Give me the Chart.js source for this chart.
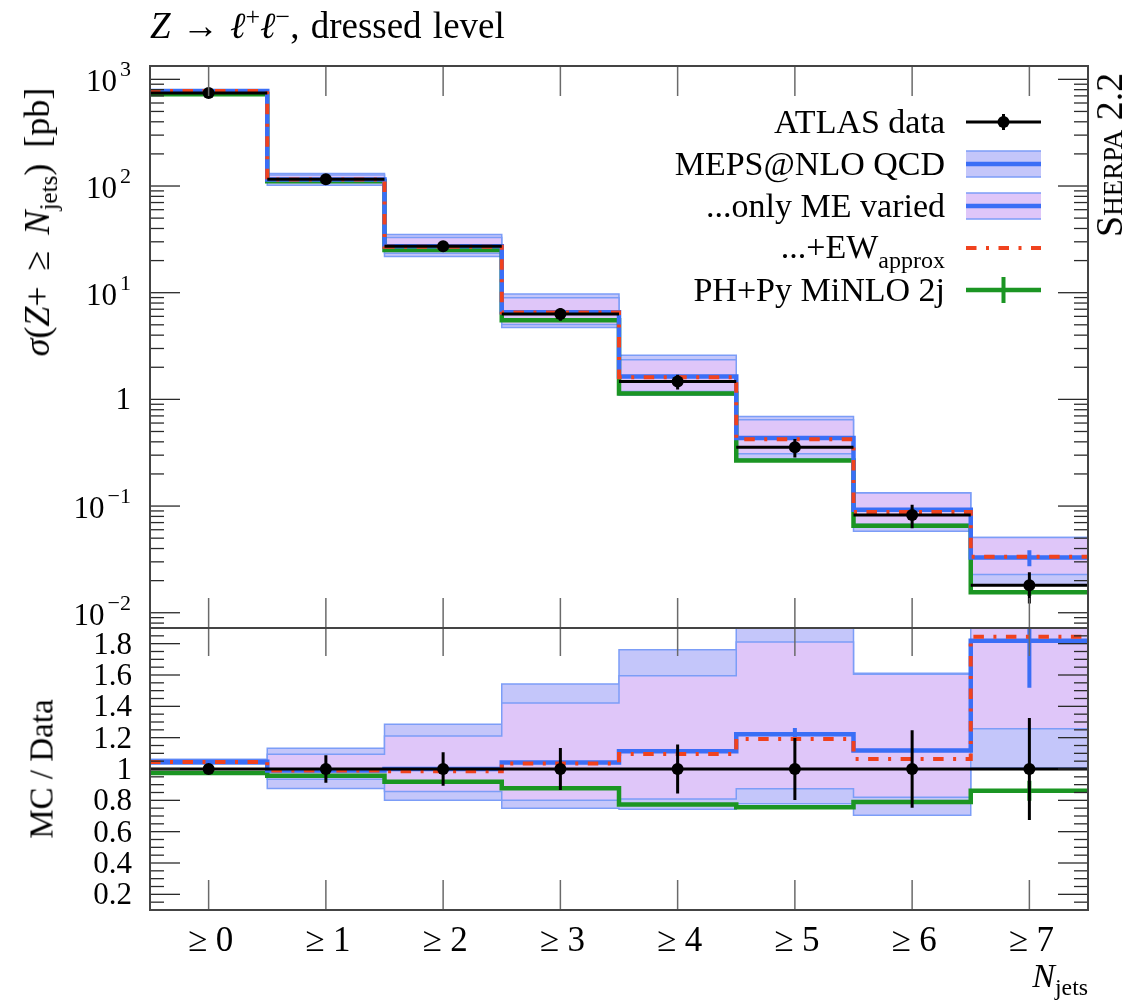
<!DOCTYPE html>
<html>
<head>
<meta charset="utf-8">
<title>Z to ll + jets, inclusive jet multiplicity</title>
<script src="https://cdn.jsdelivr.net/npm/chart.js@4.4.1/dist/chart.umd.min.js"></script>
<style>
  html, body { margin: 0; padding: 0; background: #fff; }
  body { position: relative; width: 1126px; height: 1003px; overflow: hidden;
         font-family: "Liberation Serif", "DejaVu Serif", serif; color: #000; }
  canvas { position: absolute; left: 0; top: 0; }
  .lbl { position: absolute; white-space: nowrap; line-height: 1; }
  .rot { transform: translate(-50%, -50%) rotate(-90deg); }
  sup, sub { font-size: 0.7em; line-height: 0; }
</style>
</head>
<body>
<canvas id="mainChart" width="1126" height="1003"></canvas>
<canvas id="ratioChart" width="1126" height="1003"></canvas>

<div class="lbl" style="left:150px; top:7px; font-size:37px; word-spacing:2px;"><i>Z</i> → <i>ℓ</i><sup>+</sup><i>ℓ</i><sup>−</sup>, dressed level</div>
<div class="lbl rot" style="left:37px; top:222px; font-size:36px; word-spacing:7px;"><i>σ</i>(<i>Z</i>+ ≥ <i>N</i><sub>jets</sub>) [pb]</div>
<div class="lbl rot" style="left:42px; top:769px; font-size:33px;">MC / Data</div>
<div class="lbl rot" style="left:1109px; top:155px; font-size:38px; font-variant:small-caps;">Sherpa 2.2</div>
<div class="lbl" style="right:38px; top:959px; font-size:34px;"><i>N</i><sub>jets</sub></div>

<script>
// bins: inclusive jet multiplicity
const binLabels = ['≥ 0', '≥ 1', '≥ 2', '≥ 3', '≥ 4', '≥ 5', '≥ 6', '≥ 7'];

// cross sections [pb]
const atlasData    = [744, 116, 27.3, 6.3, 1.47, 0.355, 0.0826, 0.0181];
const atlasErr     = [8.9, 10.1, 2.92, 0.84, 0.231, 0.070, 0.0205, 0.0059];
const mepsQcd      = [779, 114.8, 27.3, 6.56, 1.636, 0.434, 0.0923, 0.0329];
const mepsQcdStat  = [0, 0, 0, 0, 0, 0.015, 0, 0.0056];
const mepsQcdLo    = [766, 101.5, 21.8, 4.72, 1.092, 0.276, 0.0582, 0.0182];
const mepsQcdHi    = [790, 131.3, 35.1, 9.72, 2.589, 0.692, 0.133, 0.0507];
const onlyMeLo     = [770, 108.5, 23.4, 5.04, 1.188, 0.310, 0.0677, 0.0228];
const onlyMeHi     = [787, 126.9, 33.0, 8.95, 2.346, 0.643, 0.1326, 0.0507];
const mepsEw       = [777.5, 114.8, 26.9, 6.52, 1.611, 0.423, 0.0879, 0.0334];
const minlo        = [725, 111, 25.1, 5.53, 1.136, 0.268, 0.0653, 0.0156];
const minloStat    = [0, 0, 0, 0, 0, 0, 0, 0.0012];

// MC / data
const atlasRatio       = [1, 1, 1, 1, 1, 1, 1, 1];
const atlasRatioErr    = [0.012, 0.087, 0.107, 0.134, 0.157, 0.198, 0.248, 0.326];
const mepsQcdRatio     = [1.047, 0.99, 1.0, 1.042, 1.113, 1.222, 1.118, 1.819];
const mepsQcdRatioStat = [0, 0, 0, 0, 0, 0.04, 0, 0.30];
const mepsQcdRatioLo   = [1.03, 0.875, 0.80, 0.749, 0.743, 0.778, 0.705, 1.006];
const mepsQcdRatioHi   = [1.062, 1.132, 1.286, 1.543, 1.761, 1.95, 1.611, 2.8];
const onlyMeRatioLo    = [1.035, 0.935, 0.856, 0.80, 0.808, 0.874, 0.82, 1.257];
const onlyMeRatioHi    = [1.058, 1.094, 1.21, 1.421, 1.596, 1.81, 1.605, 2.8];
const mepsEwRatio      = [1.045, 0.99, 0.985, 1.035, 1.096, 1.192, 1.064, 1.844];
const minloRatio       = [0.975, 0.957, 0.918, 0.877, 0.773, 0.756, 0.79, 0.861];
const minloRatioStat   = [0, 0, 0, 0, 0, 0, 0, 0.064];

const xsecTicks  = [0.01, 0.1, 1, 10, 100, 1000];
const ratioTicks = [0.2, 0.4, 0.6, 0.8, 1, 1.2, 1.4, 1.6, 1.8];
const legendLabels = ['ATLAS data', 'MEPS@NLO QCD', '...only ME varied', '...+EW', 'PH+Py MiNLO 2j'];

const BLUE = '#3a6ef6', EDGE = '#7c9df7', OUTER = '#c4c6fa', INNER = '#dfc6f9';
const RED = '#f0421e', GREEN = '#1b9523';
const FONT = '"Liberation Serif", "DejaVu Serif", serif';

// histogram outline: one horizontal run per bin, joined by vertical steps
function stepPoints(vals) {
  const pts = [];
  vals.forEach((v, i) => pts.push({ x: i - 0.5, y: v }, { x: i + 0.5, y: v }));
  return pts;
}

// separate horizontal bars (data x-extent)
function barPoints(vals) {
  const pts = [];
  vals.forEach((v, i) => pts.push({ x: i - 0.5, y: v }, { x: i + 0.5, y: v }, { x: i + 0.5, y: null }));
  return pts;
}

function errPoints(vals, errs) {
  const pts = [];
  vals.forEach((v, i) => {
    if (!errs[i]) return;
    pts.push({ x: i, y: v - errs[i] }, { x: i, y: v + errs[i] }, { x: i, y: null });
  });
  return pts;
}

function histDatasets(s) {
  return [
    { data: s.data.map((v, i) => ({ x: i, y: v })), showLine: false, pointRadius: 6,
      pointBackgroundColor: '#000', pointBorderWidth: 0, order: 0 },
    { data: errPoints(s.data, s.dataErr), borderColor: '#000', borderWidth: 3, order: 1 },
    { data: barPoints(s.data), borderColor: '#000', borderWidth: 3, order: 2 },
    { data: stepPoints(s.ew), borderColor: RED, borderWidth: 4, borderDash: [10.5, 9.5, 3, 9.5], order: 3 },
    { data: errPoints(s.meps, s.mepsStat), borderColor: BLUE, borderWidth: 4, order: 4 },
    { data: stepPoints(s.meps), borderColor: BLUE, borderWidth: 4.5, order: 5 },
    { data: errPoints(s.minlo, s.minloStat), borderColor: GREEN, borderWidth: 4, order: 6 },
    { data: stepPoints(s.minlo), borderColor: GREEN, borderWidth: 4.5, order: 7 },
    { data: stepPoints(s.innerHi), borderColor: EDGE, borderWidth: 1.5, order: 8 },
    { data: stepPoints(s.innerLo), borderColor: EDGE, borderWidth: 1.5, fill: '-1', backgroundColor: INNER, order: 9 },
    { data: stepPoints(s.outerHi), borderColor: EDGE, borderWidth: 1.5, order: 10 },
    { data: stepPoints(s.outerLo), borderColor: EDGE, borderWidth: 1.5, fill: '-1', backgroundColor: OUTER, order: 11 }
  ];
}

function seg(ctx, x0, y0, x1, y1) {
  ctx.beginPath(); ctx.moveTo(x0, y0); ctx.lineTo(x1, y1); ctx.stroke();
}

function drawPowerLabel(ctx, v, py) {
  const e = Math.round(Math.log10(v));
  ctx.textAlign = 'right';
  if (e === 0) {
    ctx.font = '31px ' + FONT;
    ctx.fillText('1', 131, py + 10);
    return;
  }
  const sup = e < 0 ? '−' + (-e) : String(e);
  ctx.font = '22px ' + FONT;
  const w = ctx.measureText(sup).width;
  ctx.fillText(sup, 131, py - 3);
  ctx.font = '31px ' + FONT;
  ctx.fillText('10', 131 - w - 3, py + 12);
}

function drawRatioLabel(ctx, v, py) {
  ctx.textAlign = 'right';
  ctx.font = '31px ' + FONT;
  ctx.fillText(v === 1 ? '1' : v.toFixed(1), 132, py + 10);
}

function drawLegend(ctx) {
  const tx = 945, x0 = 966, x1 = 1041, xm = 1003.5;
  const rows = [122, 164, 206, 248, 290];
  ctx.fillStyle = '#000';
  ctx.textAlign = 'right';
  ctx.font = '34px ' + FONT;
  legendLabels.forEach((lab, i) => {
    if (i === 3) {
      ctx.font = '24px ' + FONT;
      const w = ctx.measureText('approx').width;
      ctx.fillText('approx', tx, rows[i] + 20);
      ctx.font = '34px ' + FONT;
      ctx.fillText(lab, tx - w, rows[i] + 10);
    } else {
      ctx.fillText(lab, tx, rows[i] + 11);
    }
  });
  // ATLAS data
  ctx.strokeStyle = '#000'; ctx.lineWidth = 3;
  seg(ctx, x0, rows[0], x1, rows[0]);
  seg(ctx, xm, rows[0] - 8, xm, rows[0] + 8);
  ctx.beginPath(); ctx.arc(xm, rows[0], 6, 0, 2 * Math.PI); ctx.fill();
  // bands
  [[rows[1], OUTER], [rows[2], INNER]].forEach(([y, col]) => {
    ctx.fillStyle = col; ctx.fillRect(x0, y - 13, x1 - x0, 26);
    ctx.strokeStyle = EDGE; ctx.lineWidth = 1.5;
    seg(ctx, x0, y - 13, x1, y - 13); seg(ctx, x0, y + 13, x1, y + 13);
    ctx.strokeStyle = BLUE; ctx.lineWidth = 4.5;
    seg(ctx, x0, y, x1, y);
  });
  // EW
  ctx.strokeStyle = RED; ctx.lineWidth = 4;
  ctx.setLineDash([10.5, 9.5, 3, 9.5]);
  seg(ctx, x0, rows[3], x1, rows[3]);
  ctx.setLineDash([]);
  // MiNLO
  ctx.strokeStyle = GREEN; ctx.lineWidth = 4.5;
  seg(ctx, x0, rows[4], x1, rows[4]);
  ctx.lineWidth = 4;
  seg(ctx, xm, rows[4] - 13, xm, rows[4] + 13);
}

const framePlugin = {
  id: 'frame',
  afterDatasetsDraw(chart, args, opts) {
    const { ctx, chartArea: a } = chart;
    const x = chart.scales.x, y = chart.scales.y;
    ctx.save();
    ctx.lineCap = 'butt';
    // x ticks at bin centres, top and bottom
    ctx.strokeStyle = '#6a6a6a'; ctx.lineWidth = 1.5;
    binLabels.forEach((lab, i) => {
      const px = x.getPixelForValue(i);
      seg(ctx, px, a.top, px, a.top + opts.topTick);
      seg(ctx, px, a.bottom, px, a.bottom - 30);
    });
    // y ticks on both sides
    ctx.strokeStyle = '#2a2a2a'; ctx.lineWidth = 1.3;
    opts.minor.forEach(v => {
      const py = y.getPixelForValue(v);
      seg(ctx, a.left, py, a.left + 14, py); seg(ctx, a.right, py, a.right - 14, py);
    });
    opts.major.forEach(v => {
      const py = y.getPixelForValue(v);
      seg(ctx, a.left, py, a.left + 30, py); seg(ctx, a.right, py, a.right - 30, py);
    });
    // frame
    ctx.strokeStyle = '#444'; ctx.lineWidth = 2;
    ctx.strokeRect(a.left, a.top, a.right - a.left, a.bottom - a.top);
    // tick labels
    ctx.fillStyle = '#000'; ctx.textBaseline = 'alphabetic';
    opts.major.forEach(v => opts.label(ctx, v, y.getPixelForValue(v)));
    if (opts.xLabels) {
      ctx.font = '35px ' + FONT; ctx.textAlign = 'center';
      binLabels.forEach((lab, i) => ctx.fillText(lab, x.getPixelForValue(i) + 2, a.bottom + 41));
    }
    if (opts.legend) drawLegend(ctx);
    ctx.restore();
  }
};

const xsecMinor = [];
for (let e = -3; e <= 3; e++) {
  for (let k = 2; k <= 9; k++) {
    const v = k * Math.pow(10, e);
    if (v > 0.0072 && v < 1330) xsecMinor.push(v);
  }
}
const ratioMinor = [];
for (let k = 3; k <= 37; k++) {
  if (k % 4 !== 0) ratioMinor.push(k * 0.05);
}

const baseOptions = (padding, yScale, frame) => ({
  responsive: false,
  animation: false,
  events: [],
  layout: { padding },
  elements: { point: { radius: 0, hoverRadius: 0 }, line: { tension: 0 } },
  scales: {
    x: { type: 'linear', min: -0.5, max: 7.5, display: false },
    y: Object.assign({ display: false }, yScale)
  },
  plugins: { legend: { display: false }, tooltip: { enabled: false }, frame }
});

new Chart(document.getElementById('mainChart'), {
  type: 'line',
  data: {
    datasets: histDatasets({
      data: atlasData, dataErr: atlasErr,
      meps: mepsQcd, mepsStat: mepsQcdStat, ew: mepsEw,
      minlo: minlo, minloStat: minloStat,
      innerLo: onlyMeLo, innerHi: onlyMeHi, outerLo: mepsQcdLo, outerHi: mepsQcdHi
    })
  },
  options: baseOptions(
    { left: 150, top: 66, right: 38, bottom: 375 },
    { type: 'logarithmic', min: Math.pow(10, -2.143), max: Math.pow(10, 3.125) },
    { major: xsecTicks, minor: xsecMinor, label: drawPowerLabel, topTick: 30, legend: true }
  ),
  plugins: [framePlugin]
});

new Chart(document.getElementById('ratioChart'), {
  type: 'line',
  data: {
    datasets: histDatasets({
      data: atlasRatio, dataErr: atlasRatioErr,
      meps: mepsQcdRatio, mepsStat: mepsQcdRatioStat, ew: mepsEwRatio,
      minlo: minloRatio, minloStat: minloRatioStat,
      innerLo: onlyMeRatioLo, innerHi: onlyMeRatioHi, outerLo: mepsQcdRatioLo, outerHi: mepsQcdRatioHi
    })
  },
  options: baseOptions(
    { left: 150, top: 628, right: 38, bottom: 93 },
    { type: 'linear', min: 0.1, max: 1.9 },
    { major: ratioTicks, minor: ratioMinor, label: drawRatioLabel, topTick: 28, xLabels: true }
  ),
  plugins: [framePlugin]
});
</script>
</body>
</html>
